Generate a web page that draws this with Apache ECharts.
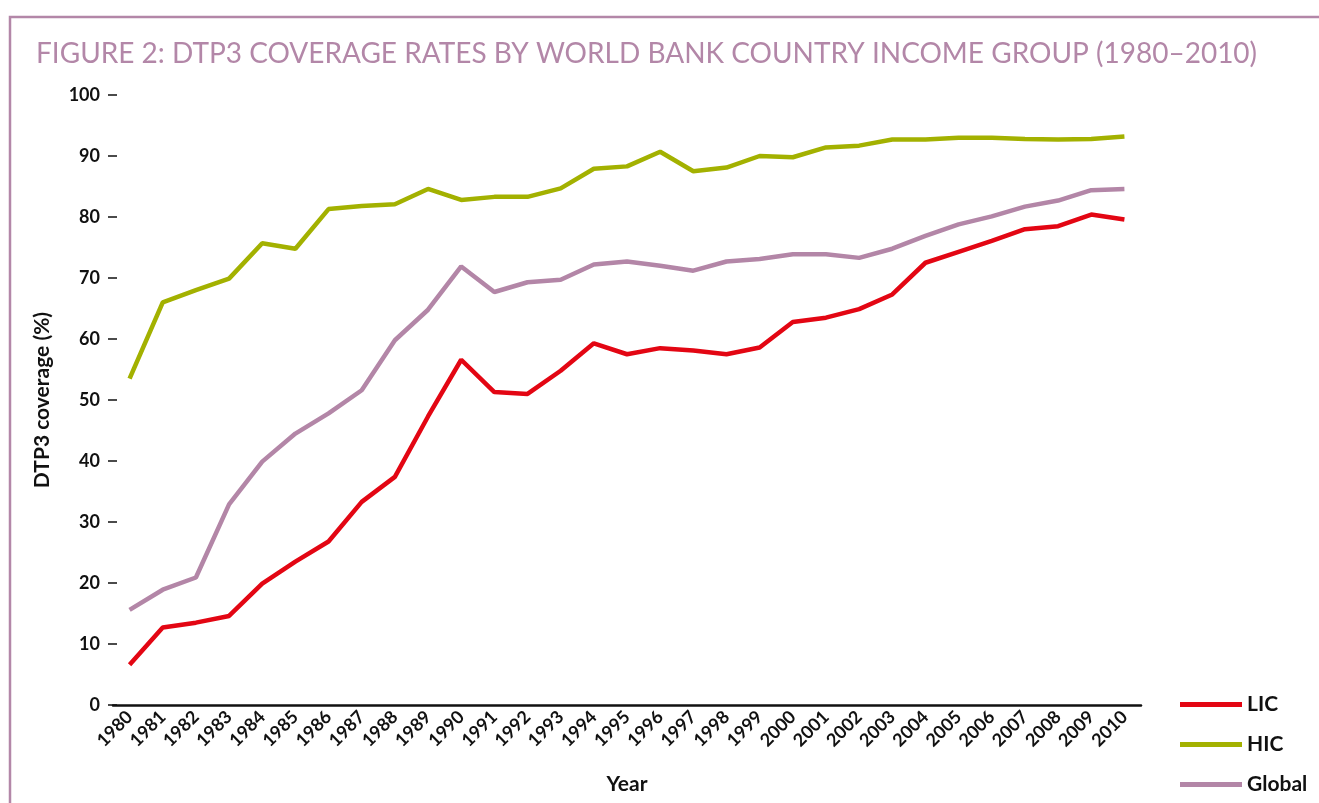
<!DOCTYPE html>
<html>
<head>
<meta charset="utf-8">
<script src="https://cdn.jsdelivr.net/npm/echarts@6/dist/echarts.min.js"></script>
<style>
  html, body { margin: 0; padding: 0; background: #fff; }
  #chart { width: 1319px; height: 803px; }
</style>
</head>
<body>
<div id="chart"></div>
<script>
// years on the x axis
const years = ['1980','1981','1982','1983','1984','1985','1986','1987','1988','1989',
  '1990','1991','1992','1993','1994','1995','1996','1997','1998','1999',
  '2000','2001','2002','2003','2004','2005','2006','2007','2008','2009','2010'];

// DTP3 coverage (%)
const lic = [6.6, 12.7, 13.5, 14.6, 19.9, 23.5, 26.8, 33.3, 37.4, 47.3,
  56.6, 51.3, 51.0, 54.8, 59.3, 57.5, 58.5, 58.1, 57.5, 58.6,
  62.8, 63.5, 64.9, 67.3, 72.5, 74.3, 76.1, 78.0, 78.5, 80.4, 79.6];
const hic = [53.5, 66.0, 68.0, 69.9, 75.7, 74.8, 81.3, 81.8, 82.1, 84.6,
  82.8, 83.3, 83.3, 84.7, 87.9, 88.3, 90.7, 87.5, 88.1, 90.0,
  89.8, 91.4, 91.7, 92.7, 92.7, 93.0, 93.0, 92.8, 92.7, 92.8, 93.2];
const globalCov = [15.6, 18.9, 20.9, 32.9, 39.9, 44.5, 47.8, 51.6, 59.8, 64.8,
  71.9, 67.7, 69.3, 69.7, 72.2, 72.7, 72.0, 71.2, 72.7, 73.1,
  73.9, 73.9, 73.3, 74.8, 76.9, 78.8, 80.1, 81.7, 82.7, 84.4, 84.6];

const yTicks = [0, 10, 20, 30, 40, 50, 60, 70, 80, 90, 100];

const font = 'Lato, "Open Sans", sans-serif';
const purple = '#b387a8';

const chart = echarts.init(document.getElementById('chart'));

chart.setOption({
  animation: false,
  title: {
    text: 'FIGURE 2: DTP3 COVERAGE RATES BY WORLD BANK COUNTRY INCOME GROUP (1980–2010)',
    left: 31,
    top: 35,
    textStyle: { fontFamily: font, fontWeight: 'normal', fontSize: 28, color: purple }
  },
  graphic: [{
    type: 'rect',
    shape: { x: 10, y: 17, width: 1400, height: 900 },
    style: { fill: 'none', stroke: purple, lineWidth: 2.5 },
    silent: true
  }],
  legend: {
    orient: 'vertical',
    left: 1175,
    top: 689,
    itemWidth: 62,
    itemHeight: 5,
    itemGap: 19,
    icon: 'rect',
    textStyle: { fontFamily: font, fontWeight: 'bold', fontSize: 21, color: '#111' },
    data: ['LIC', 'HIC', 'Global']
  },
  grid: { left: 113, right: 178, top: 95, bottom: 98 },
  xAxis: {
    type: 'category',
    data: years,
    boundaryGap: true,
    name: 'Year',
    nameLocation: 'middle',
    nameGap: 69,
    nameTextStyle: { fontFamily: font, fontWeight: 'bold', fontSize: 21, color: '#111' },
    axisLine: { lineStyle: { color: '#111', width: 2.5 } },
    axisTick: { show: false },
    axisLabel: {
      rotate: 45,
      interval: 0,
      margin: 9,
      fontFamily: font,
      fontWeight: 'bold',
      fontSize: 18,
      color: '#111'
    }
  },
  yAxis: {
    type: 'value',
    min: 0,
    max: 100,
    interval: 10,
    offset: -4,
    name: 'DTP3 coverage (%)',
    nameLocation: 'middle',
    nameGap: 64,
    nameTextStyle: { fontFamily: font, fontWeight: 'bold', fontSize: 21, color: '#111' },
    axisLine: { show: false },
    axisTick: { show: true, length: 9, lineStyle: { color: '#111', width: 1.5 } },
    splitLine: { show: false },
    axisLabel: {
      margin: 17,
      fontFamily: font,
      fontWeight: 'bold',
      fontSize: 18,
      color: '#111',
      formatter: v => yTicks.includes(v) ? String(v) : ''
    }
  },
  series: [
    { name: 'LIC', type: 'line', data: lic, symbol: 'none', color: '#e30613',
      lineStyle: { width: 4.5, color: '#e30613' } },
    { name: 'HIC', type: 'line', data: hic, symbol: 'none', color: '#a3b100',
      lineStyle: { width: 4.5, color: '#a3b100' } },
    { name: 'Global', type: 'line', data: globalCov, symbol: 'none', color: '#b386a7',
      lineStyle: { width: 4.5, color: '#b386a7' } }
  ]
});
</script>
</body>
</html>
